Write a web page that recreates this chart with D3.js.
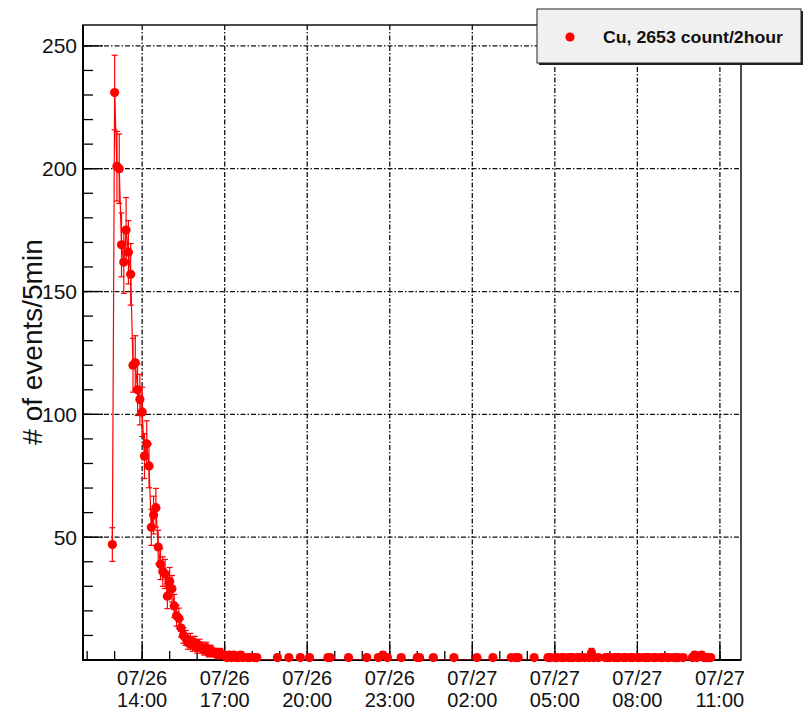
<!DOCTYPE html>
<html><head><meta charset="utf-8">
<script src="https://cdn.jsdelivr.net/npm/d3@7"></script>
<style>body{margin:0;background:#fff}svg{display:block}</style>
</head><body>
<svg id="c" width="806" height="711"></svg>
<script>
// ---- data ----
const binStart = "2016/07/26 12:55";
const binMinutes = 5;
const counts = [
  47,231,201,200,169,162,175,166,157,120,
  121,110,106,101,83,88,79,54,59,62,
  46,39,36,35,26,32,29,22,18,17,
  13,10,9,7,8,6,7,5,6,5,
  4,5,3,4,3,3,2,3,2,2,
  1,2,1,2,1,1,2,1,0,1,
  1,0,1,1,0,0,0,0,0,0,
  0,0,1,0,0,0,0,1,0,0,
  0,0,1,0,0,0,1,0,0,0,
  0,0,0,0,1,1,0,0,0,0,
  0,0,0,1,0,0,0,0,0,0,
  0,1,0,0,0,0,1,0,2,0,
  1,0,0,0,0,0,1,0,0,0,
  0,0,0,1,1,0,0,0,0,0,
  1,0,0,0,0,0,0,0,0,1,
  0,0,0,0,0,0,0,0,0,1,
  0,0,0,0,0,0,1,0,0,0,
  0,0,0,0,1,0,1,1,0,0,
  0,0,0,0,1,0,0,0,0,0,
  1,1,0,1,1,0,1,1,0,1,
  1,1,0,1,1,0,1,0,1,3,
  1,0,1,0,0,1,1,1,0,1,
  1,1,0,1,1,0,1,1,0,1,
  1,0,1,1,1,0,1,1,0,1,
  1,0,1,1,0,1,1,1,0,1,
  0,0,0,1,2,1,0,2,1,1,
  1,1
];
const xDomain = ["2016/07/26 11:51", "2016/07/27 11:46"];
const xTickLabels = ["07/26 14:00","07/26 17:00","07/26 20:00","07/26 23:00",
                     "07/27 02:00","07/27 05:00","07/27 08:00","07/27 11:00"];
const yDomain = [0, 258.5];
const yTickLabels = [50,100,150,200,250];
const yMinorStep = 10;
const legendLabel = "Cu, 2653 count/2hour";
const yTitle = "# of events/5min";
const year = "2016";

// ---- setup ----
const parse = d3.timeParse("%Y/%m/%d %H:%M");
const t0 = parse(binStart);
const points = counts.map((c,i)=>({t:d3.timeMinute.offset(t0, i*binMinutes), v:c, e:Math.sqrt(c)}));
const F = {l:83, r:741, t:25, b:660};
const FONT = "'Liberation Sans', Arial, Helvetica, sans-serif";
const RED = "#ff0000";

const x = d3.scaleTime().domain(xDomain.map(parse)).range([F.l, F.r]);
const y = d3.scaleLinear().domain(yDomain).range([F.b, F.t]);

const svg = d3.select("#c");
svg.append("rect").attr("width",806).attr("height",711).attr("fill","#fff");

svg.append("clipPath").attr("id","fr").append("rect")
  .attr("x",F.l).attr("y",F.t).attr("width",F.r-F.l).attr("height",F.b-F.t);

// grid
const dash = "5,2,1.5,2";
const majorTimes = xTickLabels.map(s=>parse(year+"/"+s));
svg.append("g").selectAll("line").data(majorTimes).join("line")
  .attr("x1",d=>x(d)).attr("x2",d=>x(d)).attr("y1",F.t).attr("y2",F.b)
  .attr("stroke","#111").attr("stroke-width",1.3).attr("stroke-dasharray",dash);
svg.append("g").selectAll("line").data(yTickLabels).join("line")
  .attr("x1",F.l).attr("x2",F.r).attr("y1",d=>y(d)).attr("y2",d=>y(d))
  .attr("stroke","#111").attr("stroke-width",1.3).attr("stroke-dasharray",dash);

// ticks
const minorTimes = x.ticks(d3.timeHour.every(1));
const ax = svg.append("g").attr("stroke","#000").attr("stroke-width",1.3);
ax.selectAll(".xm").data(minorTimes).join("line")
  .attr("x1",d=>x(d)).attr("x2",d=>x(d)).attr("y1",F.b).attr("y2",F.b-9);
ax.selectAll(".xM").data(majorTimes).join("line")
  .attr("x1",d=>x(d)).attr("x2",d=>x(d)).attr("y1",F.b).attr("y2",F.b-18);
const yMinor = d3.range(yMinorStep, yDomain[1], yMinorStep);
ax.selectAll(".ym").data(yMinor).join("line")
  .attr("x1",F.l).attr("x2",F.l+10).attr("y1",d=>y(d)).attr("y2",d=>y(d));
ax.selectAll(".yM").data(yTickLabels).join("line")
  .attr("x1",F.l).attr("x2",F.l+20).attr("y1",d=>y(d)).attr("y2",d=>y(d));

// frame
svg.append("rect").attr("x",F.l).attr("y",F.t).attr("width",F.r-F.l).attr("height",F.b-F.t)
  .attr("fill","none").attr("stroke","#000").attr("stroke-width",1.4);
svg.append("line").attr("x1",F.l).attr("x2",F.l).attr("y1",F.t).attr("y2",F.b+1).attr("stroke","#000").attr("stroke-width",2);
svg.append("line").attr("x1",F.l).attr("x2",F.r).attr("y1",F.b).attr("y2",F.b).attr("stroke","#000").attr("stroke-width",2);

// data line
svg.append("path").datum(points).attr("clip-path","url(#fr)")
  .attr("d", d3.line().x(d=>x(d.t)).y(d=>y(d.v)))
  .attr("fill","none").attr("stroke",RED).attr("stroke-width",1.2);

// error bars
const nz = points.filter(d=>d.v>0);
const eb = svg.append("g").attr("stroke",RED).attr("stroke-width",1.2);
eb.selectAll(".v").data(nz).join("line")
  .attr("x1",d=>x(d.t)).attr("x2",d=>x(d.t)).attr("y1",d=>y(d.v-d.e)).attr("y2",d=>y(d.v+d.e));
eb.selectAll(".c1").data(nz).join("line")
  .attr("x1",d=>x(d.t)-3).attr("x2",d=>x(d.t)+3).attr("y1",d=>y(d.v+d.e)).attr("y2",d=>y(d.v+d.e));
eb.selectAll(".c2").data(nz).join("line")
  .attr("x1",d=>x(d.t)-3).attr("x2",d=>x(d.t)+3).attr("y1",d=>y(d.v-d.e)).attr("y2",d=>y(d.v-d.e));

// markers
svg.append("g").selectAll("circle").data(nz).join("circle")
  .attr("cx",d=>x(d.t)).attr("cy",d=>y(d.v)).attr("r",4.6).attr("fill",RED);

// tick labels
const lab = svg.append("g").attr("font-family",FONT).attr("fill","#111");
lab.selectAll(".yl").data(yTickLabels).join("text")
  .attr("x",77).attr("y",d=>y(d)+7.5).attr("text-anchor","end").attr("font-size",21).text(d=>d);
const xl = lab.selectAll(".xl").data(xTickLabels).join("text")
  .attr("text-anchor","middle").attr("font-size",20);
xl.append("tspan").attr("x",(d,i)=>x(majorTimes[i])).attr("y",685).text(d=>d.split(" ")[0]);
xl.append("tspan").attr("x",(d,i)=>x(majorTimes[i])).attr("y",707).text(d=>d.split(" ")[1]);

// y title
svg.append("text").attr("transform","translate(42,342) rotate(-90)")
  .attr("text-anchor","middle").attr("font-family",FONT).attr("font-size",28).attr("fill","#111").text(yTitle);

// legend
const lg = svg.append("g");
lg.append("rect").attr("x",539).attr("y",11).attr("width",264).attr("height",54).attr("fill","#222");
lg.append("rect").attr("x",537).attr("y",9).attr("width",264).attr("height",54)
  .attr("fill","#f0f0f0").attr("stroke","#222").attr("stroke-width",1);
lg.append("circle").attr("cx",570).attr("cy",37).attr("r",4.6).attr("fill",RED);
lg.append("text").attr("x",603).attr("y",43).attr("font-family",FONT).attr("font-weight","bold")
  .attr("font-size",16).attr("textLength",180).attr("lengthAdjust","spacingAndGlyphs").attr("fill","#111").text(legendLabel);
</script>
</body></html>
